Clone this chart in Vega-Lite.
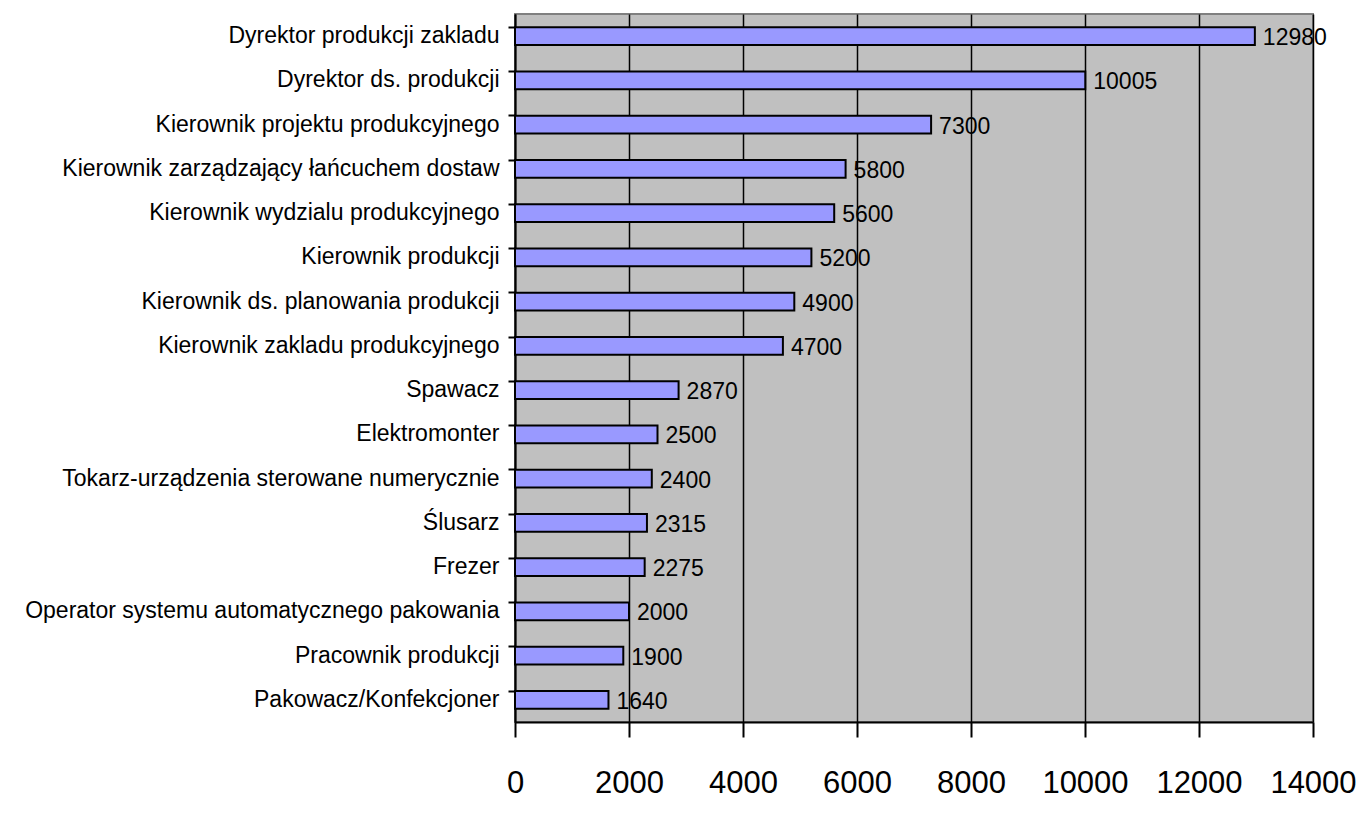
{
  "$schema": "https://vega.github.io/schema/vega-lite/v6.json",
  "autosize": {"type": "none"},
  "padding": {"left": 515, "top": 14, "right": 53, "bottom": 98},
  "width": 798,
  "height": 708,
  "background": "white",
  "data": {
    "values": [
      {"job": "Dyrektor produkcji zakladu", "pay": 12980},
      {"job": "Dyrektor ds. produkcji", "pay": 10005},
      {"job": "Kierownik projektu produkcyjnego", "pay": 7300},
      {"job": "Kierownik zarządzający łańcuchem dostaw", "pay": 5800},
      {"job": "Kierownik wydzialu produkcyjnego", "pay": 5600},
      {"job": "Kierownik produkcji", "pay": 5200},
      {"job": "Kierownik ds. planowania produkcji", "pay": 4900},
      {"job": "Kierownik zakladu produkcyjnego", "pay": 4700},
      {"job": "Spawacz", "pay": 2870},
      {"job": "Elektromonter", "pay": 2500},
      {"job": "Tokarz-urządzenia sterowane numerycznie", "pay": 2400},
      {"job": "Ślusarz", "pay": 2315},
      {"job": "Frezer", "pay": 2275},
      {"job": "Operator systemu automatycznego pakowania", "pay": 2000},
      {"job": "Pracownik produkcji", "pay": 1900},
      {"job": "Pakowacz/Konfekcjoner", "pay": 1640}
    ]
  },
  "encoding": {
    "y": {
      "field": "job",
      "type": "nominal",
      "sort": {"field": "pay", "order": "descending"},
      "title": null,
      "scale": {"paddingInner": 0.6, "paddingOuter": 0.3},
      "axis": {
        "bandPosition": 0,
        "domainColor": "black",
        "domainWidth": 2,
        "tickColor": "black",
        "tickWidth": 2,
        "tickSize": 7,
        "labelFont": "Liberation Sans",
        "labelFontSize": 23,
        "labelColor": "black",
        "labelPadding": 9,
        "labelLimit": 600,
        "grid": false
      }
    },
    "x": {
      "field": "pay",
      "type": "quantitative",
      "title": null,
      "scale": {"domain": [0, 14000], "nice": false},
      "axis": {
        "values": [0, 2000, 4000, 6000, 8000, 10000, 12000, 14000],
        "format": "d",
        "domainColor": "black",
        "domainWidth": 2,
        "tickColor": "black",
        "tickWidth": 2,
        "tickSize": 15,
        "grid": true,
        "gridColor": "black",
        "gridWidth": 1.5,
        "gridOpacity": 1,
        "labelFont": "Liberation Sans",
        "labelFontSize": 31,
        "labelColor": "black",
        "labelPadding": 31,
        "labelFlush": false
      }
    }
  },
  "layer": [
    {
      "mark": {"type": "bar", "color": "#9999FF", "stroke": "black", "strokeWidth": 2}
    },
    {
      "mark": {"type": "text", "align": "left", "baseline": "middle", "dx": 8, "dy": 2, "font": "Liberation Sans", "fontSize": 23, "color": "black"},
      "encoding": {"text": {"field": "pay", "type": "quantitative", "format": "d"}}
    }
  ],
  "config": {
    "view": {"fill": "#C0C0C0", "stroke": "#808080", "strokeWidth": 2}
  }
}
